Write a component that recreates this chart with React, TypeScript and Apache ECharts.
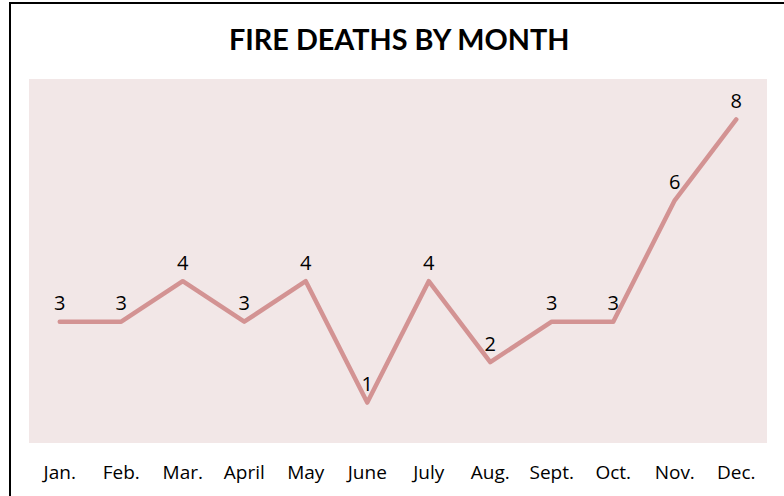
import React, { useEffect, useRef } from "react";
import * as echarts from "echarts";

const months = ["Jan.", "Feb.", "Mar.", "April", "May", "June", "July", "Aug.", "Sept.", "Oct.", "Nov.", "Dec."];
const deaths = [3, 3, 4, 3, 4, 1, 4, 2, 3, 3, 6, 8];
const titleText = "FIRE DEATHS BY MONTH";

export default function App() {
  const ref = useRef<HTMLDivElement>(null);
  useEffect(() => {
    if (!ref.current) return;
    const chart = echarts.init(ref.current, null, { renderer: "svg" });
    chart.setOption({
      animation: false,
      backgroundColor: "#ffffff",
      title: {
        text: titleText,
        left: 224,
        top: 19,
        textStyle: { fontFamily: "Lato", fontWeight: "bold", fontSize: 28.8, color: "#000" },
      },
      graphic: [
        {
          type: "rect",
          shape: { x: 10, y: 3, width: 800, height: 600 },
          style: { fill: "none", stroke: "#000", lineWidth: 2 },
          silent: true,
        },
      ],
      grid: {
        left: 29,
        right: 17,
        top: 79,
        bottom: 53,
        show: true,
        backgroundColor: "#F2E7E7",
        borderWidth: 0,
      },
      xAxis: {
        type: "category",
        data: months,
        boundaryGap: true,
        axisLine: { show: false },
        axisTick: { show: false },
        axisLabel: { fontFamily: "Open Sans", fontSize: 19, color: "#000", margin: 19 },
      },
      yAxis: {
        type: "value",
        min: 0,
        max: 9,
        show: false,
        splitLine: { show: false },
      },
      series: [
        {
          type: "line",
          data: deaths,
          symbol: "circle",
          symbolSize: 0.1,
          showSymbol: true,
          lineStyle: { color: "#D39393", width: 4.5, cap: "round", join: "round" },
          itemStyle: { color: "#D39393" },
          label: {
            show: true,
            position: "top",
            distance: 9,
            fontFamily: "Open Sans",
            fontSize: 20,
            color: "#000",
          },
        },
      ],
    });
    return () => chart.dispose();
  }, []);
  return <div ref={ref} style={{ position: "fixed", left: 0, top: 0, width: 784, height: 496 }} />;
}
